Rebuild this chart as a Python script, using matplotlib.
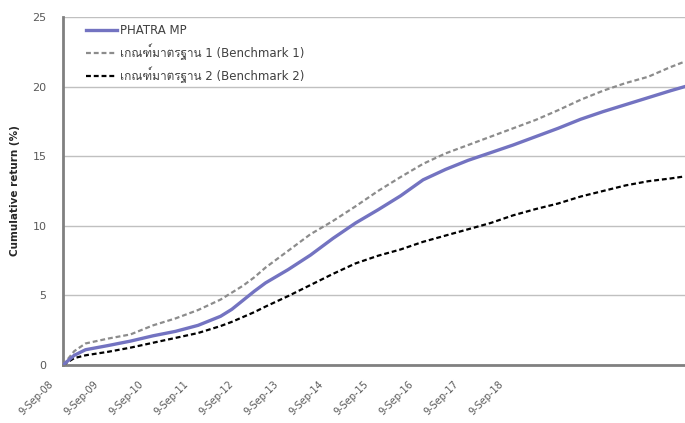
import matplotlib
matplotlib.use("Agg")
import matplotlib.pyplot as plt
import matplotlib.transforms as mtransforms
from matplotlib import font_manager
from matplotlib.ft2font import FT2Font

# ---- data (x in years since 9-Sep-08) ----
years = [0, 0.25, 0.5, 1, 1.5, 2, 2.5, 3, 3.5, 3.75, 4, 4.25, 4.5, 5, 5.5, 6,
         6.5, 7, 7.5, 8, 8.5, 9, 9.5, 10, 10.5, 11, 11.5, 12, 12.5, 13, 13.5,
         13.82]
phatra = [0, 0.7, 1.1, 1.4, 1.72, 2.1, 2.42, 2.85, 3.5, 4.0, 4.65, 5.3, 5.9,
          6.85, 7.9, 9.1, 10.2, 11.15, 12.15, 13.3, 14.05, 14.7, 15.25, 15.8,
          16.4, 17.0, 17.65, 18.2, 18.7, 19.2, 19.7, 20.0]
bench1 = [0, 1.0, 1.55, 1.9, 2.2, 2.85, 3.35, 3.95, 4.7, 5.2, 5.7, 6.3, 7.0,
          8.2, 9.4, 10.35, 11.4, 12.5, 13.5, 14.45, 15.2, 15.8, 16.4, 17.0,
          17.6, 18.3, 19.05, 19.7, 20.25, 20.7, 21.4, 21.8]
bench2 = [0, 0.5, 0.7, 0.95, 1.25, 1.6, 1.95, 2.3, 2.8, 3.1, 3.45, 3.8, 4.2,
          4.95, 5.75, 6.55, 7.3, 7.85, 8.3, 8.85, 9.3, 9.75, 10.2, 10.75, 11.2,
          11.6, 12.1, 12.5, 12.9, 13.2, 13.4, 13.55]
tick_pos = list(range(11))
tick_labels = ["9-Sep-08", "9-Sep-09", "9-Sep-10", "9-Sep-11", "9-Sep-12",
               "9-Sep-13", "9-Sep-14", "9-Sep-15", "9-Sep-16", "9-Sep-17",
               "9-Sep-18"]
series_names = ["PHATRA MP", "เกณฑ์มาตรฐาน 1 (Benchmark 1)",
                "เกณฑ์มาตรฐาน 2 (Benchmark 2)"]

# find a font with Thai glyphs
thai_family = None
for f in font_manager.fontManager.ttflist:
    try:
        cm = FT2Font(f.fname).get_charmap()
        if 0x0E40 in cm and 0x0E13 in cm:
            thai_family = f.name
            break
    except Exception:
        pass
families = ["DejaVu Sans"]
if thai_family:
    families.append(thai_family)
plt.rcParams['font.family'] = families

fig = plt.figure(figsize=(6.85, 4.23), dpi=100)
ax = fig.add_axes([0.092, 0.137, 0.908, 0.823])

ax.plot(years, phatra, color="#7373c1", lw=2.4, label=series_names[0], zorder=4)
ax.plot(years, bench1, color="#8c8c8c", lw=1.6, ls=(0, (2.2, 1.3)),
        label=series_names[1], zorder=3)
ax.plot(years, bench2, color="#000000", lw=1.6, ls=(0, (2.2, 1.3)),
        label=series_names[2], zorder=3)

ax.set_xlim(0, 13.82)
ax.set_ylim(0, 25)
ax.set_yticks([0, 5, 10, 15, 20, 25])
ax.yaxis.grid(True, color="#c0c0c0", lw=1)
ax.set_axisbelow(True)
ax.set_xticks(tick_pos)
ax.set_xticklabels(tick_labels, rotation=45, ha="right", rotation_mode="anchor")
ax.tick_params(axis="both", length=0, labelcolor="#595959")
ax.tick_params(axis="x", pad=10, labelsize=7)
ax.tick_params(axis="y", pad=12, labelsize=8)
offset = mtransforms.ScaledTranslation(-0.15, 0, fig.dpi_scale_trans)
for lab in ax.get_xticklabels():
    lab.set_transform(lab.get_transform() + offset)
for s in ["top", "right"]:
    ax.spines[s].set_visible(False)
for s in ["left", "bottom"]:
    ax.spines[s].set_color("#808080")
    ax.spines[s].set_linewidth(2)
ax.set_ylabel("Cumulative return (%)", fontsize=7.5, fontweight="bold",
              color="#262626", labelpad=9)

leg = ax.legend(loc="upper left", bbox_to_anchor=(0.02, 1.01), frameon=False,
                fontsize=8.5, handlelength=2.6, handletextpad=0.25,
                labelspacing=0.55, labelcolor="#404040")

fig.savefig("out.png", dpi=100)
